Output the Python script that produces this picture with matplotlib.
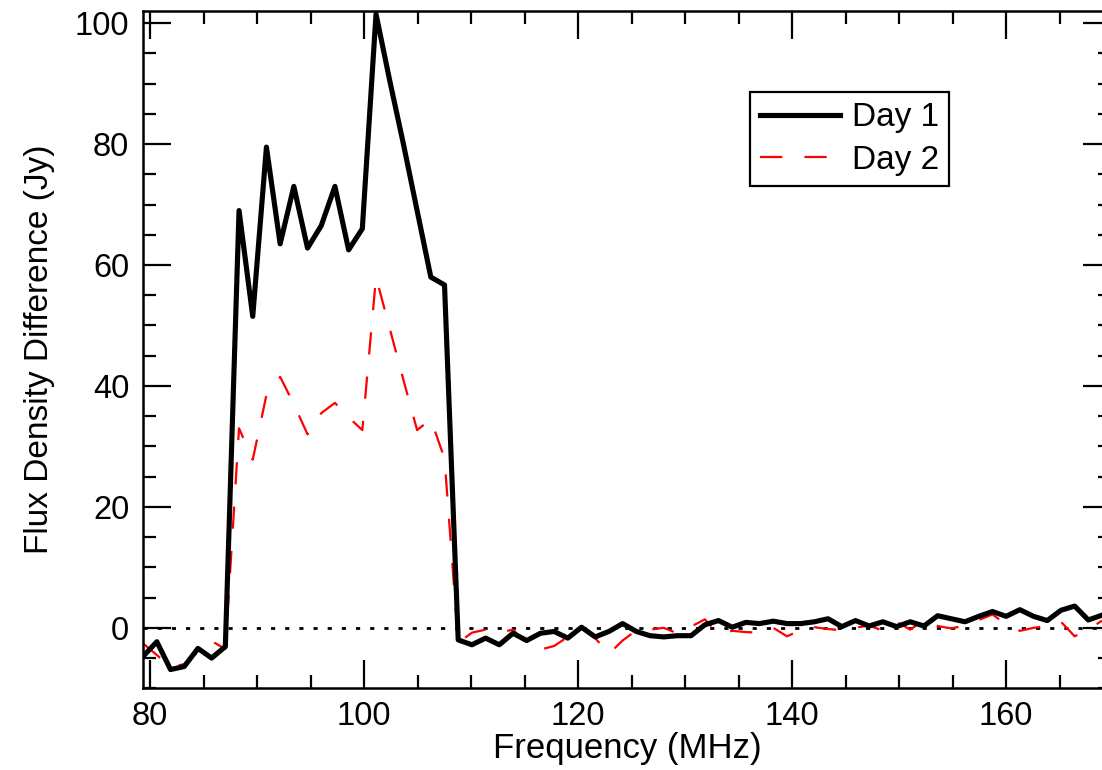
import numpy as np
import matplotlib
matplotlib.use("Agg")
import matplotlib.pyplot as plt
from matplotlib.ticker import MultipleLocator

plt.rcParams['font.family'] = ['Liberation Sans', 'DejaVu Sans']

# frequency channels (MHz)
freq = [79.36, 80.64, 81.92, 83.20, 84.48, 85.76, 87.04,
        88.32, 89.60, 90.88, 92.16, 93.44, 94.72, 96.00, 97.28,
        98.56, 99.84, 101.12, 102.40, 103.68, 104.96, 106.24, 107.52,
        108.80, 110.08, 111.36, 112.64, 113.92, 115.20, 116.48, 117.76,
        119.04, 120.32, 121.60, 122.88, 124.16, 125.44, 126.72, 128.00,
        129.28, 130.56, 131.84, 133.12, 134.40, 135.68, 136.96, 138.24,
        139.52, 140.80, 142.08, 143.36, 144.64, 145.92, 147.20, 148.48,
        149.76, 151.04, 152.32, 153.60, 154.88, 156.16, 157.44, 158.72,
        160.00, 161.28, 162.56, 163.84, 165.12, 166.40, 167.68, 168.96]

day1 = [-4.7, -2.3, -6.9, -6.4, -3.4, -5.0, -3.1,
        69.0, 51.5, 79.5, 63.5, 73.0, 62.8, 66.5, 73.0,
        62.5, 66.0, 101.5, 90.5, 80.0, 69.0, 58.0, 56.7,
        -2.0, -2.8, -1.7, -2.8, -0.9, -2.1, -0.9, -0.6,
        -1.7, 0.1, -1.5, -0.6, 0.7, -0.6, -1.3, -1.5,
        -1.3, -1.3, 0.5, 1.2, 0.1, 0.9, 0.7, 1.1,
        0.7, 0.7, 1.0, 1.5, 0.2, 1.2, 0.3, 1.0,
        0.2, 1.0, 0.3, 2.0, 1.5, 1.0, 1.9, 2.7,
        1.9, 3.0, 1.9, 1.2, 2.9, 3.6, 1.3, 2.1]

day2 = [-2.6, -4.5, -6.5, -6.0, -4.0, -2.2, -3.5,
        33.0, 27.8, 38.5, 41.5, 37.0, 32.0, 35.5, 37.2,
        34.8, 32.7, 58.0, 49.5, 41.0, 32.7, 34.5, 28.0,
        -2.5, -0.8, -0.3, -0.8, -0.3, -2.6, -3.6, -3.0,
        -1.5, 0.0, -1.7, -4.3, -2.1, -0.4, -0.3, 0.0,
        -0.9, 0.2, 1.4, -1.0, -0.5, -0.7, -0.8, 0.0,
        -1.4, -0.4, 0.1, -0.2, -0.4, 0.0, 0.4, -0.5,
        1.0, -0.3, 1.3, 0.3, -0.1, 0.4, 1.3, 2.2,
        0.6, -0.5, 0.0, 0.3, 1.0, -1.4, -0.3, 1.2]

fig = plt.figure(figsize=(11.02, 7.70), dpi=100)
ax = fig.add_axes([0.1298, 0.1061, 0.8784, 0.8796])

ax.axhline(0, color='black', lw=2.0, linestyle=(0, (1.5, 3.6)), zorder=1)
ax.plot(freq, day1, color='black', lw=3.7, label='Day 1', zorder=3)
ax.plot(freq, day2, color='red', lw=1.6, linestyle=(0, (10, 10)), label='Day 2', zorder=2)

ax.set_xlim(79.35, 169.8)
ax.set_ylim(-10, 102)
ax.xaxis.set_major_locator(MultipleLocator(20))
ax.xaxis.set_minor_locator(MultipleLocator(5))
ax.yaxis.set_major_locator(MultipleLocator(20))
ax.yaxis.set_minor_locator(MultipleLocator(5))
ax.tick_params(which='both', direction='in', top=True, right=True, width=1.6, labelsize=23.5)
ax.tick_params(which='major', length=20)
ax.tick_params(which='minor', length=9.5)
ax.tick_params(axis='x', pad=9)
ax.tick_params(axis='y', pad=10)
for s in ax.spines.values():
    s.set_linewidth(1.8)

ax.set_xlabel('Frequency (MHz)', fontsize=25, labelpad=0)
ax.set_ylabel('Flux Density Difference (Jy)', fontsize=24, labelpad=14)

leg = ax.legend(loc='upper left', bbox_to_anchor=(0.627, 0.880), fontsize=24,
                frameon=True, fancybox=False, framealpha=1, edgecolor='black',
                handlelength=2.4, handletextpad=0.35, borderpad=0.3,
                labelspacing=0.35, borderaxespad=0)
leg.get_frame().set_linewidth(1.6)

fig.savefig('out.png', dpi=100)
